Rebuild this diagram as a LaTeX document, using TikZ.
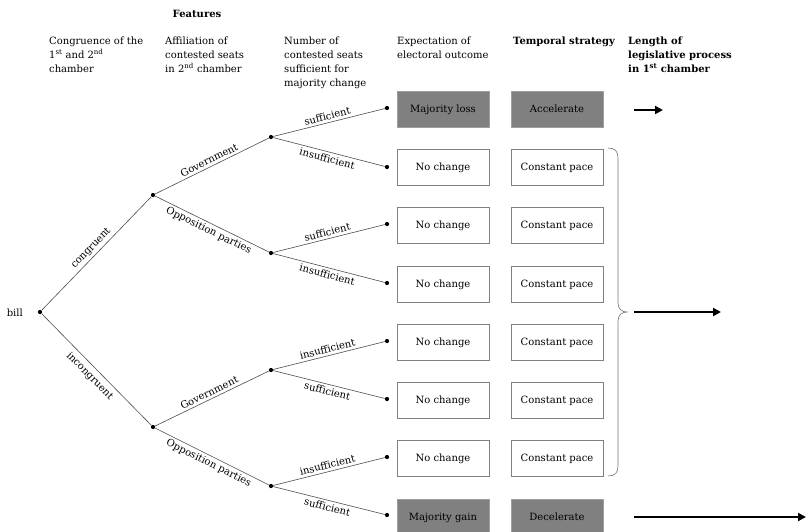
\documentclass[tikz,border=0pt]{standalone}
\usepackage{fontspec}
\setmainfont{DejaVu Serif}
\usetikzlibrary{arrows.meta}
\begin{document}
\begin{tikzpicture}[x=1pt,y=-1pt,
  font=\fontsize{10}{14}\selectfont,
  dot/.style={circle,fill=black,inner sep=0pt,minimum size=4.2pt},
  edge/.style={draw=black!70,line width=0.6pt},
  lab/.style={sloped,inner sep=2.5pt},
  box/.style={draw=black!50,line width=0.6pt,minimum width=92pt,minimum height=36pt,inner sep=0pt,text height=8.5pt,text depth=2.5pt},
  darkbox/.style={box,fill=black!50,draw=black!38},
  hdr/.style={anchor=north west,align=left,inner sep=0pt},
  bigarrow/.style={-{Triangle[length=8pt,width=8pt]},line width=2.4pt},
  bracec/.style={draw=black!55,line width=0.6pt}]
\useasboundingbox (0,0) rectangle (806,531);

% headers
\node[font=\fontsize{10}{14}\selectfont\bfseries] (feat) at (197,14) {Features};
\node[hdr] (h1) at (49,36.5) {Congruence of the\\1\textsuperscript{st} and 2\textsuperscript{nd}\\chamber};
\node[hdr] (h2) at (165,36.5) {Affiliation of\\contested seats\\in 2\textsuperscript{nd} chamber};
\node[hdr] (h3) at (284,36.5) {Number of\\contested seats\\sufficient for\\majority change};
\node[hdr] (h4) at (397,36.5) {Expectation of\\electoral outcome};
\node[hdr,font=\fontsize{10}{14}\selectfont\bfseries] (h5) at (513,36.5) {Temporal strategy};
\node[hdr,font=\fontsize{10}{14}\selectfont\bfseries] (h6) at (628,36.5) {Length of\\legislative process\\in 1\textsuperscript{st} chamber};

% tree nodes
\node[dot] (root) at (40,312) {};
\node[anchor=east,inner sep=0pt] (bill) at (23,313) {bill};
\node[dot] (c) at (153,195) {};
\node[dot] (i) at (153,427) {};
\node[dot] (cg) at (271,137) {};
\node[dot] (co) at (271,253) {};
\node[dot] (ig) at (271,370) {};
\node[dot] (io) at (271,486) {};
\foreach \k/\y in {1/108,2/167,3/224,4/283,5/341,6/399,7/457,8/515}
  \node[dot] (l\k) at (387,\y) {};

% edges
\draw[edge] (root) -- node[lab,above]{congruent} (c);
\draw[edge] (root) -- node[lab,below,inner sep=4.5pt]{incongruent} (i);
\draw[edge] (c) -- node[lab,above]{Government} (cg);
\draw[edge] (c) -- node[lab,below]{Opposition parties} (co);
\draw[edge] (i) -- node[lab,above]{Government} (ig);
\draw[edge] (i) -- node[lab,below]{Opposition parties} (io);
\draw[edge] (cg) -- node[lab,above]{sufficient} (l1);
\draw[edge] (cg) -- node[lab,below]{insufficient} (l2);
\draw[edge] (co) -- node[lab,above]{sufficient} (l3);
\draw[edge] (co) -- node[lab,below]{insufficient} (l4);
\draw[edge] (ig) -- node[lab,above]{insufficient} (l5);
\draw[edge] (ig) -- node[lab,below]{sufficient} (l6);
\draw[edge] (io) -- node[lab,above]{insufficient} (l7);
\draw[edge] (io) -- node[lab,below]{sufficient} (l8);

% boxes
\node[darkbox] (e1) at (443,109) {Majority loss};
\node[darkbox] (t1) at (557,109) {Accelerate};
\foreach \k/\y in {2/167,3/225,4/284,5/342,6/400,7/458}{
  \node[box] (e\k) at (443,\y) {No change};
  \node[box] (t\k) at (557,\y) {Constant pace};
}
\node[darkbox] (e8) at (443,517) {Majority gain};
\node[darkbox] (t8) at (557,517) {Decelerate};

% brace
\draw[bracec] (608,148) .. controls (615,148) and (618,151) .. (618,158) -- (618,303)
  .. controls (618,309) and (622,312) .. (627,312)
  .. controls (622,312) and (618,315) .. (618,321) -- (618,466)
  .. controls (618,473) and (615,476) .. (608,476);

% arrows
\coordinate (a1s) at (634,110); \coordinate (a1e) at (663,110);
\coordinate (a2s) at (634,312); \coordinate (a2e) at (721,312);
\coordinate (a3s) at (634,517); \coordinate (a3e) at (806,517);
\draw[bigarrow] (a1s) -- (a1e);
\draw[bigarrow] (a2s) -- (a2e);
\draw[bigarrow] (a3s) -- (a3e);
\end{tikzpicture}
\end{document}
